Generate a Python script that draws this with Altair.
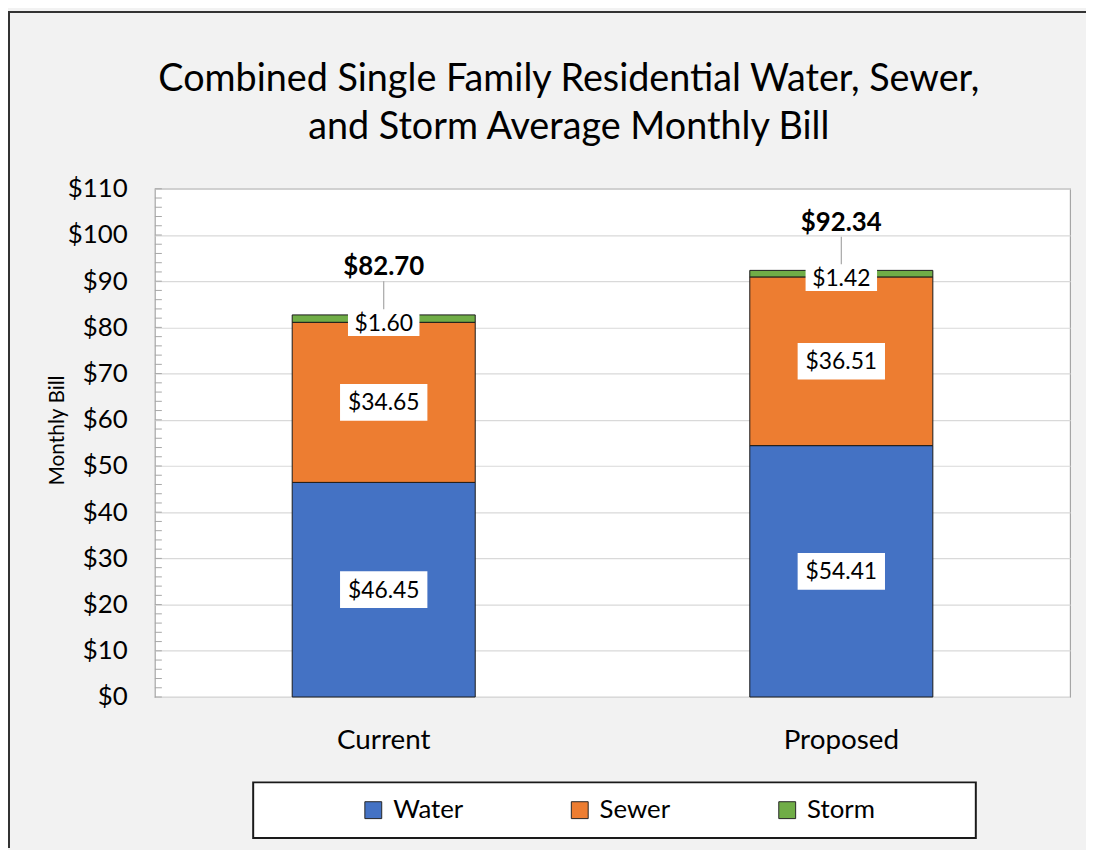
import altair as alt
import pandas as pd

categories = ["Current", "Proposed"]
series = ["Water", "Sewer", "Storm"]
water = [46.45, 54.41]
sewer = [34.65, 36.51]
storm = [1.60, 1.42]
totals = [82.70, 92.34]
colors = ["#4472C4", "#ED7D31", "#70AD47"]
major_ticks = [0, 10, 20, 30, 40, 50, 60, 70, 80, 90, 100, 110]
minor_ticks = [0, 2, 4, 6, 8, 10, 12, 14, 16, 18, 20, 22, 24, 26, 28, 30, 32, 34, 36, 38, 40,
               42, 44, 46, 48, 50, 52, 54, 56, 58, 60, 62, 64, 66, 68, 70, 72, 74, 76, 78, 80,
               82, 84, 86, 88, 90, 92, 94, 96, 98, 100, 102, 104, 106, 108, 110]

FONT = "Lato"

rows = []
for i, cat in enumerate(categories):
    start = 0.0
    for j, (name, vals) in enumerate(zip(series, [water, sewer, storm])):
        v = vals[i]
        rows.append({"category": cat, "series": name, "order": j, "value": v,
                     "start": start, "end": start + v, "mid": start + v / 2,
                     "label": f"${v:.2f}"})
        start += v
df = pd.DataFrame(rows)
tot_df = pd.DataFrame({"category": categories, "total": totals,
                       "label": [f"${t:.2f}" for t in totals]})
minor_df = pd.DataFrame({"tick": minor_ticks})

x_enc = alt.X("category:N", sort=categories,
              scale=alt.Scale(paddingInner=0.6, paddingOuter=0.3),
              axis=alt.Axis(title=None, labelAngle=0, ticks=False, domain=False,
                            labelFontSize=28, labelPadding=30, labelColor="#000000",
                            labelFont=FONT))
y_scale = alt.Scale(domain=[0, 110], nice=False)

pad = "\u00a0" * 13 + "\u200b"

bars = alt.Chart(df).mark_bar(stroke="#1a1a1a", strokeWidth=1).encode(
    x=x_enc,
    y=alt.Y("start:Q", scale=y_scale,
            axis=alt.Axis(values=major_ticks, labelExpr="'$' + datum.value",
                          title="Monthly  Bill", titleFontSize=21, titleFontWeight="normal",
                          titleColor="#000000", titleX=-88, titleY=243, titleAngle=-90,
                          labelFontSize=26, labelColor="#000000", labelPadding=28,
                          ticks=False, domain=False, gridColor="#d9d9d9", gridWidth=1.2)),
    y2="end:Q",
    color=alt.Color("series:N", sort=series,
                    scale=alt.Scale(domain=series, range=colors),
                    legend=alt.Legend(orient="none", legendX=99, legendY=598,
                                      direction="horizontal", title=" ",
                                      titleOrient="left", titleFontSize=1,
                                      titlePadding=93, padding=15,
                                      fillColor="#ffffff", strokeColor="#1a1a1a",
                                      symbolType="square", symbolSize=289,
                                      symbolStrokeColor="#262626", symbolStrokeWidth=1,
                                      symbolOpacity=1,
                                      labelFontSize=26, labelColor="#000000",
                                      labelOffset=7, columnPadding=104, labelLimit=400,
                                      labelExpr="datum.label == 'Storm' ? datum.label + '" + pad + "' : datum.label")),
    order=alt.Order("order:Q"),
)

minor = alt.Chart(minor_df).mark_rule(color="#a6a6a6", strokeWidth=1).encode(
    y=alt.Y("tick:Q", scale=y_scale),
    x=alt.value(0), x2=alt.value(7),
)

# outer chart-area frame (left and top edges)
frame_left = alt.Chart(tot_df).mark_rule(color="#333333", strokeWidth=2).encode(
    x=alt.value(-147), y=alt.value(-178), y2=alt.value(664))
frame_top = alt.Chart(tot_df).mark_rule(color="#333333", strokeWidth=2).encode(
    y=alt.value(-178), x=alt.value(-148), x2=alt.value(940))

main_lab = df[df["series"] != "Storm"]
storm_lab = df[df["series"] == "Storm"]

box_path_big = "M-1,-0.42L1,-0.42L1,0.42L-1,0.42Z"
box_path_small = "M-1,-0.375L1,-0.375L1,0.375L-1,0.375Z"

boxes = alt.Chart(main_lab).mark_point(shape=box_path_big, filled=True, fill="#ffffff",
                                       opacity=1, size=7744, strokeWidth=0).encode(
    x=alt.X("category:N", sort=categories), y=alt.Y("mid:Q", scale=y_scale))
texts = alt.Chart(main_lab).mark_text(fontSize=23, color="#000000", font=FONT,
                                      baseline="middle", dy=1).encode(
    x=alt.X("category:N", sort=categories), y=alt.Y("mid:Q", scale=y_scale), text="label:N")

leader = alt.Chart(tot_df).mark_rule(color="#a6a6a6", strokeWidth=1.2, yOffset=-34, y2Offset=0).encode(
    x=alt.X("category:N", sort=categories),
    y=alt.Y("total:Q", scale=y_scale), y2="total:Q")

sboxes = alt.Chart(storm_lab).mark_point(shape=box_path_small, filled=True, fill="#ffffff",
                                         opacity=1, size=5184, strokeWidth=0, yOffset=4).encode(
    x=alt.X("category:N", sort=categories), y=alt.Y("mid:Q", scale=y_scale))
stexts = alt.Chart(storm_lab).mark_text(fontSize=23, color="#000000", font=FONT,
                                        baseline="middle", dy=5).encode(
    x=alt.X("category:N", sort=categories), y=alt.Y("mid:Q", scale=y_scale), text="label:N")

totals_txt = alt.Chart(tot_df).mark_text(fontSize=26, fontWeight="bold", color="#000000",
                                         font=FONT, baseline="middle", dy=-48).encode(
    x=alt.X("category:N", sort=categories), y=alt.Y("total:Q", scale=y_scale), text="label:N")

chart = alt.layer(bars, minor, boxes, texts, leader, sboxes, stexts, totals_txt,
                  frame_left, frame_top).properties(
    width=922, height=512,
    autosize=alt.AutoSizeParams(type="none"),
    padding={"left": 148, "top": 179, "right": 16, "bottom": 151},
    background="#f2f2f2",
    title=alt.TitleParams(
        text=["Combined Single Family Residential Water, Sewer,",
              "and Storm Average Monthly Bill"],
        fontSize=38, fontWeight="normal", font=FONT, color="#000000",
        anchor="middle", dx=-44, offset=-175, lineHeight=49, baseline="bottom"),
).configure(font=FONT).configure_view(
    stroke="#a6a6a6", strokeWidth=1.2, fill="#ffffff"
).configure_legend(labelFont=FONT, strokeWidth=2)

chart.save("out.html", embed_options={"renderer": "svg", "actions": False})
